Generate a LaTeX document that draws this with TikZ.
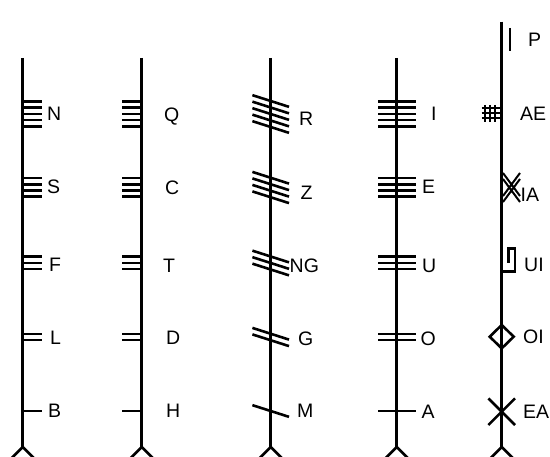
\documentclass[tikz,border=0pt]{standalone}
\usepackage{fontspec}
\setmainfont{Liberation Sans}
\begin{document}
\begin{tikzpicture}[x=1pt,y=-1pt,
  stem/.style={line width=2.6pt},
  score/.style={line width=2.6pt},
  mark5/.style={line width=2.6pt},
  lab/.style={anchor=base west, inner sep=0pt, font=\fontsize{19.5}{19.5}\selectfont}]
\useasboundingbox (0,0) rectangle (550,457);
\fill[white] (0,0) rectangle (550,457);
\clip (0,0) rectangle (550,457);
% stems with chevron feet
\foreach \x/\t in {22.7/58, 141.7/58, 270.7/58, 396.7/58, 501.7/21.7} {
  \draw[stem] (\x,\t) -- (\x,447);
  \draw[stem, line join=miter] (\x-14,461) -- (\x,447) -- (\x+14,461);
}
% stroke groups
\foreach \cy/\n in {114/5,187.5/4,263/3,337/2,411/1} {
  \foreach \k in {1,...,\n} {
    \pgfmathsetmacro\yy{\cy+(\k-(\n+1)/2)*6.2}
    \pgfmathsetmacro\ys{\cy+(\k-(\n+1)/2)*6.5}
    \draw[score] (22.7,\yy) -- (42,\yy);
    \draw[score] (122.3,\yy) -- (141.7,\yy);
    \draw[score] (378.3,\yy) -- (416,\yy);
    \draw[score] (252.4,\ys-5.85) -- (289,\ys+5.85);
  }
}
% fifth column forfeda
\draw[mark5] (510,28) -- (510,50.7);
\foreach \y in {108,113,118} \draw[mark5] (481.7,\y) -- (501.7,\y);
\foreach \x in {485,490,495} \draw[mark5] (\x,105) -- (\x,121.7);
\draw[line width=2pt] (503,173) -- (520,196) (503,179) -- (520,202)
  (520,173) -- (503,196) (520,179) -- (503,202);
\draw[mark5, line join=miter] (501.7,271.7) -- (515,271.7) -- (515,248.3) -- (508.3,248.3) -- (508.3,263.3);
\draw[mark5] (501.7,325) -- (513.7,336.7) -- (501.7,348.4) -- (489.7,336.7) -- cycle;
\draw[mark5] (488.4,398.4) -- (515,425) (515,398.4) -- (488.4,425);
% labels
\foreach \nm/\x/\y in {N/47/114, S/47/187, F/49/265, L/50/338.5, B/48/411,
  Q/164/115, C/165/188, T/163/266, D/166/338, H/166/411,
  R/299/119.5, Z/300.5/193.5, NG/289.5/266, G/298/339, M/297/411,
  I/431/114, E/422/187, U/422/265.8, O/420.5/338.7, A/421.5/411.7,
  P/528/39.7, AE/520/113.7, IA/520.5/195, UI/524/265, OI/523/337, EA/523/412.5} {
  \node[lab] (lab\nm) at (\x,\y+6.5) {\nm};
}
\end{tikzpicture}
\end{document}
